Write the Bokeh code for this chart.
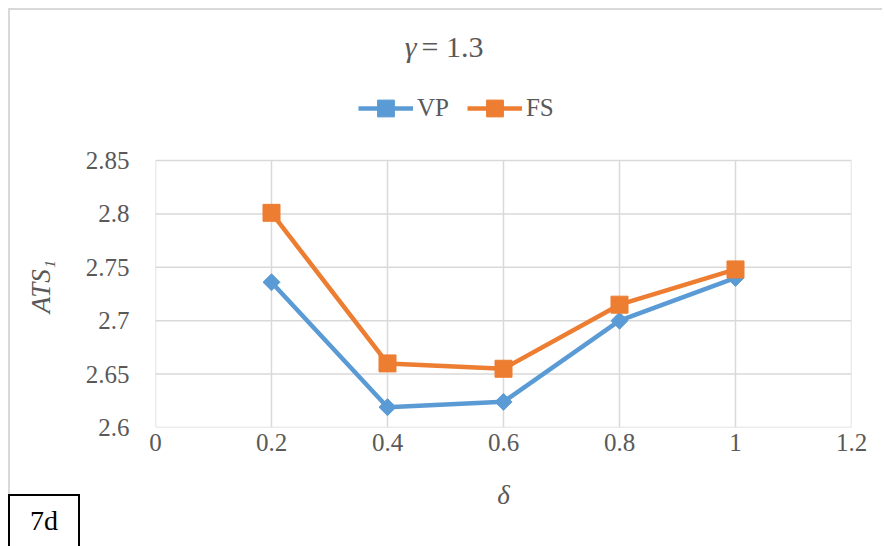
import math
from bokeh.plotting import figure
from bokeh.layouts import column
from bokeh.models import Range1d, Legend, LegendItem, Label, FixedTicker, Div
from bokeh.embed import file_html
from bokeh.resources import INLINE

delta = [0.2, 0.4, 0.6, 0.8, 1.0]
vp = [2.736, 2.619, 2.624, 2.700, 2.740]
fs = [2.801, 2.660, 2.655, 2.715, 2.748]
x_ticks = [0, 0.2, 0.4, 0.6, 0.8, 1.0, 1.2]
y_ticks = [2.6, 2.65, 2.7, 2.75, 2.8, 2.85]

FONT = "Liberation Serif"
TXT = "#595959"
GRID = "#D9D9D9"
BLUE = "#5B9BD5"
ORANGE = "#ED7D31"

# plot-area geometry (pixels on the page)
FRAME_TOP_PAGE, GRID_TOP_PAGE, GRID_BOTTOM_PAGE = 10, 160, 427
y_lo, y_hi = y_ticks[0], y_ticks[-1]
per_px = (y_hi - y_lo) / (GRID_BOTTOM_PAGE - GRID_TOP_PAGE)
y_top = y_lo + (GRID_BOTTOM_PAGE - FRAME_TOP_PAGE) * per_px

p = figure(width=874, height=536, output_backend="svg", toolbar_location=None,
           x_range=Range1d(x_ticks[0], x_ticks[-1]), y_range=Range1d(y_lo, y_top),
           min_border_left=145, min_border_right=33, min_border_top=0, min_border_bottom=119)
p.styles = {"margin-left": "10px", "margin-top": "10px", "box-shadow": "-2px -2px 0 0 #D9D9D9"}

p.outline_line_color = None
p.xgrid.grid_line_color = None
p.ygrid.grid_line_color = None
# gridlines limited to the data area
p.segment(x0=x_ticks, y0=[y_lo] * len(x_ticks), x1=x_ticks, y1=[y_hi] * len(x_ticks),
          line_color=GRID, line_width=1.5)
p.segment(x0=[x_ticks[0]] * len(y_ticks), y0=y_ticks, x1=[x_ticks[-1]] * len(y_ticks), y1=y_ticks,
          line_color=GRID, line_width=1.5)

p.xaxis.ticker = FixedTicker(ticks=x_ticks)
p.yaxis.ticker = FixedTicker(ticks=y_ticks)
p.xaxis.major_label_overrides = {0: "0", 1.0: "1", 1.2: "1.2"}
for ax in (p.xaxis, p.yaxis):
    ax.axis_line_color = None
    ax.major_tick_line_color = None
    ax.minor_tick_line_color = None
    ax.major_label_text_font = FONT
    ax.major_label_text_font_size = "25px"
    ax.major_label_text_color = TXT
    ax.axis_label_text_font = FONT
    ax.axis_label_text_font_size = "27px"
    ax.axis_label_text_font_style = "italic"
    ax.axis_label_text_color = TXT
p.xaxis.major_label_standoff = 0
p.yaxis.major_label_standoff = 20
p.xaxis.axis_label = "δ"
p.xaxis.axis_label_standoff = 26
# trailing em spaces shift the centred label down to the middle of the grid area
p.yaxis.axis_label = "ATS₁" + "\u2003" * 5
p.yaxis.axis_label_standoff = 27

r1 = p.line(delta, vp, line_color=BLUE, line_width=4.5)
m1 = p.scatter(delta, vp, marker="square", angle=math.pi / 4, size=12,
               fill_color=BLUE, line_color=BLUE)
r2 = p.line(delta, fs, line_color=ORANGE, line_width=4.5)
m2 = p.scatter(delta, fs, marker="square", size=17, fill_color=ORANGE, line_color=ORANGE)

legend = Legend(items=[LegendItem(label="VP", renderers=[r1, m1]),
                       LegendItem(label="FS", renderers=[r2, m2])],
                location=(203, 298), orientation="horizontal",
                glyph_width=55, glyph_height=42, label_standoff=4, spacing=18,
                padding=0, margin=0, border_line_color=None, background_fill_alpha=0,
                label_text_font=FONT, label_text_font_size="25px", label_text_color=TXT)
p.add_layout(legend, "center")

title_sym = Label(x=261, y=381, x_units="screen", y_units="screen", text="γ",
                  text_font=FONT, text_font_size="30px", text_font_style="italic",
                  text_color=TXT, text_align="right", text_baseline="middle")
title_val = Label(x=266, y=381, x_units="screen", y_units="screen", text="= 1.3",
                  text_font=FONT, text_font_size="30px", text_color=TXT,
                  text_align="left", text_baseline="middle")
p.add_layout(title_sym)
p.add_layout(title_val)

tag = Div(text="7d", width=72, height=60,
          styles={"position": "absolute", "left": "3px", "top": "489px",
                  "border": "2px solid black", "background": "white",
                  "font-family": "Liberation Serif", "font-size": "28px", "color": "black",
                  "text-align": "center", "line-height": "50px", "box-sizing": "border-box"})

layout = column(p, tag)
open("out.html", "w").write(file_html(layout, INLINE))
